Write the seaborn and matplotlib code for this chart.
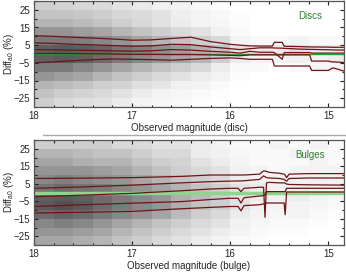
import numpy as np
import pandas as pd
import matplotlib
matplotlib.use("Agg")
import matplotlib.pyplot as plt
from matplotlib.lines import Line2D
from matplotlib.ticker import MultipleLocator
import seaborn as sns

# ---------------- data ----------------
# density grid (grey background): columns = magnitude bins 18.0 -> 14.8 (step 0.2),
# rows = Diff bins from +30 (top) to -30 (bottom), step 5
mag_edges = [18.0, 17.8, 17.6, 17.4, 17.2, 17.0, 16.8, 16.6, 16.4, 16.2, 16.0,
             15.8, 15.6, 15.4, 15.2, 15.0, 14.8]
diff_edges = [30, 25, 20, 15, 10, 5, 0, -5, -10, -15, -20, -25, -30]

disc_density = [
    [0.30, 0.28, 0.26, 0.24, 0.20, 0.16, 0.12, 0.10, 0.06, 0.03, 0.00, 0.00, 0.00, 0.00, 0.00, 0.00],
    [0.35, 0.35, 0.33, 0.30, 0.26, 0.24, 0.20, 0.14, 0.10, 0.06, 0.02, 0.00, 0.00, 0.00, 0.00, 0.00],
    [0.40, 0.40, 0.38, 0.35, 0.30, 0.25, 0.20, 0.15, 0.10, 0.08, 0.03, 0.00, 0.00, 0.00, 0.00, 0.00],
    [0.50, 0.50, 0.48, 0.45, 0.40, 0.35, 0.30, 0.25, 0.20, 0.12, 0.05, 0.00, 0.00, 0.00, 0.00, 0.00],
    [0.60, 0.60, 0.58, 0.55, 0.50, 0.45, 0.40, 0.35, 0.30, 0.25, 0.10, 0.05, 0.05, 0.10, 0.05, 0.05],
    [0.70, 0.72, 0.70, 0.68, 0.62, 0.58, 0.52, 0.48, 0.42, 0.35, 0.20, 0.15, 0.15, 0.20, 0.15, 0.15],
    [0.70, 0.72, 0.70, 0.65, 0.60, 0.55, 0.50, 0.45, 0.40, 0.30, 0.15, 0.10, 0.10, 0.12, 0.10, 0.15],
    [0.60, 0.60, 0.55, 0.50, 0.45, 0.40, 0.35, 0.30, 0.25, 0.15, 0.05, 0.05, 0.00, 0.05, 0.08, 0.10],
    [0.50, 0.48, 0.45, 0.40, 0.35, 0.30, 0.25, 0.20, 0.15, 0.10, 0.03, 0.00, 0.00, 0.00, 0.00, 0.00],
    [0.40, 0.38, 0.35, 0.30, 0.28, 0.22, 0.18, 0.12, 0.10, 0.05, 0.00, 0.00, 0.00, 0.00, 0.00, 0.00],
    [0.35, 0.30, 0.28, 0.25, 0.20, 0.15, 0.10, 0.08, 0.05, 0.02, 0.00, 0.00, 0.00, 0.00, 0.00, 0.00],
    [0.30, 0.25, 0.22, 0.20, 0.15, 0.10, 0.08, 0.05, 0.03, 0.00, 0.00, 0.00, 0.00, 0.00, 0.00, 0.00],
]

bulge_density = [
    [0.30, 0.30, 0.30, 0.30, 0.25, 0.25, 0.20, 0.20, 0.15, 0.10, 0.05, 0.05, 0.10, 0.05, 0.10, 0.05],
    [0.40, 0.40, 0.38, 0.35, 0.35, 0.30, 0.25, 0.25, 0.15, 0.12, 0.08, 0.05, 0.05, 0.10, 0.05, 0.05],
    [0.45, 0.45, 0.42, 0.40, 0.40, 0.35, 0.30, 0.28, 0.20, 0.15, 0.10, 0.05, 0.05, 0.05, 0.10, 0.05],
    [0.50, 0.50, 0.50, 0.48, 0.45, 0.40, 0.35, 0.30, 0.25, 0.20, 0.12, 0.10, 0.05, 0.10, 0.10, 0.10],
    [0.55, 0.58, 0.55, 0.52, 0.50, 0.45, 0.40, 0.35, 0.30, 0.25, 0.15, 0.12, 0.10, 0.12, 0.12, 0.10],
    [0.62, 0.65, 0.62, 0.60, 0.55, 0.50, 0.45, 0.40, 0.35, 0.30, 0.20, 0.15, 0.12, 0.15, 0.12, 0.10],
    [0.70, 0.72, 0.70, 0.65, 0.60, 0.55, 0.50, 0.42, 0.38, 0.30, 0.20, 0.15, 0.12, 0.15, 0.10, 0.08],
    [0.72, 0.75, 0.72, 0.65, 0.60, 0.55, 0.50, 0.42, 0.35, 0.30, 0.20, 0.12, 0.10, 0.10, 0.08, 0.05],
    [0.65, 0.68, 0.65, 0.60, 0.55, 0.50, 0.45, 0.38, 0.30, 0.25, 0.15, 0.10, 0.08, 0.10, 0.05, 0.03],
    [0.55, 0.58, 0.55, 0.50, 0.45, 0.40, 0.35, 0.30, 0.25, 0.20, 0.12, 0.08, 0.05, 0.05, 0.03, 0.00],
    [0.50, 0.50, 0.48, 0.45, 0.40, 0.35, 0.30, 0.25, 0.20, 0.15, 0.10, 0.05, 0.03, 0.03, 0.00, 0.00],
    [0.45, 0.45, 0.42, 0.40, 0.35, 0.30, 0.25, 0.20, 0.15, 0.10, 0.05, 0.03, 0.00, 0.00, 0.00, 0.00],
]

# percentile curves, discs
disc_mag = [18.0, 17.8, 17.6, 17.4, 17.2, 17.0, 16.8, 16.6, 16.4, 16.2, 16.0, 15.9, 15.8,
            15.7, 15.57, 15.55, 15.47, 15.45, 15.3, 15.19, 15.17, 15.0, 14.96, 14.94, 14.84]
disc_p1 = [10.4, 10.0, 9.5, 9.0, 8.5, 7.8, 8.0, 8.8, 9.5, 7.0, 5.5, 5.0, 4.6,
           4.5, 4.5, 6.6, 6.6, 4.4, 4.2, 4.0, 4.0, 3.9, 3.8, 3.8, 3.8]
disc_p2 = [6.3, 6.0, 5.5, 5.2, 4.8, 4.4, 4.6, 5.5, 5.3, 4.0, 3.0, 2.5, 3.0,
           3.5, 3.5, 3.4, 3.3, 3.2, 2.8, 2.6, 2.6, 2.4, 2.3, 2.3, 2.2]
disc_p3 = [2.5, 2.4, 2.2, 2.0, 1.8, 1.6, 1.8, 2.5, 2.2, 1.5, 1.0, 0.5, 1.5,
           1.0, 1.0, 0.8, -3.0, 0.8, 0.8, 0.8, 0.5, 0.5, 0.5, 0.5, 0.5]
disc_p4 = [0.3, 0.3, 0.2, 0.1, 0.0, -0.2, -0.2, -0.3, -0.3, -0.5, -0.8, -1.0, -0.5,
           -0.5, -0.5, -0.5, -0.5, -0.5, -0.5, -0.5, -4.0, -4.0, -4.5, -4.5, -4.8]
disc_p5 = [-5.0, -4.5, -3.8, -3.2, -2.8, -3.0, -3.2, -3.5, -3.0, -2.5, -2.2, -2.5, -3.0,
           -3.0, -3.0, -6.8, -6.8, -6.8, -6.8, -6.8, -9.3, -9.3, -8.0, -8.0, -9.7]

# percentile curves, bulges
bulge_mag = [18.0, 17.5, 17.0, 16.5, 16.2, 16.0, 15.92, 15.89, 15.86, 15.7, 15.66,
             15.645, 15.63, 15.6, 15.5, 15.45, 15.44, 15.425, 15.4, 15.2, 14.84]
bulge_p1 = [8.0, 8.2, 8.5, 9.2, 10.0, 10.0, 10.0, 10.0, 10.0, 10.5, 12.3,
            12.3, 12.0, 11.5, 11.0, 10.5, 10.0, 8.5, 10.5, 10.8, 10.8]
bulge_p2 = [2.4, 3.2, 4.2, 5.5, 6.2, 6.5, 6.6, 6.6, 6.7, 7.5, 9.5,
            9.0, 8.5, 8.3, 8.0, 7.5, 7.0, 6.5, 8.0, 8.3, 8.3]
bulge_p3 = [-2.4, -1.5, -0.5, 1.0, 2.0, 2.4, 2.4, 0.5, 2.4, 3.0, 3.0,
            -14.2, 5.5, 5.8, 5.5, 5.5, 5.3, 4.8, 4.6, 4.4, 4.2]
bulge_p4 = [-8.0, -7.0, -6.1, -5.2, -4.0, -3.3, -3.3, -6.0, -3.0, -2.0, -1.8,
            -1.5, 0.5, 0.5, 0.5, 0.5, 0.5, 2.4, 2.4, 2.4, 2.4]
bulge_p5 = [-11.7, -11.3, -10.8, -9.3, -8.5, -8.0, -8.0, -10.5, -7.5, -7.0, -6.5,
            -6.3, -6.0, -6.0, -6.0, -6.0, -12.7, 0.3, 0.3, 0.3, 0.3]

y_ticks = [25, 15, 5, -5, -15, -25]
x_ticks = [18, 17, 16, 15]
panel_labels = ["Discs", "Bulges"]
x_labels = ["Observed magnitude (disc)", "Observed magnitude (bulge)"]

# ---------------- style ----------------
sns.set_style("white")
plt.rcParams["font.family"] = ["Liberation Sans", "DejaVu Sans"]
plt.rcParams["font.size"] = 7

fig = plt.figure(figsize=(3.46, 2.75), dpi=100)
ax_top = fig.add_axes([34 / 346, 1 - 107 / 275, 310 / 346, 106 / 275])
ax_bot = fig.add_axes([34 / 346, 1 - 245 / 275, 310 / 346, 105 / 275])

brown = "#6e1414"

def draw_panel(ax, density, mag, curves, label, xlabel, green_kw):
    ax.pcolormesh(mag_edges, diff_edges, np.array(density), cmap="Greys",
                  vmin=0, vmax=1, shading="flat", zorder=0)
    ax.axhline(0, zorder=1, **green_kw)
    for c in curves:
        df = pd.DataFrame({"mag": mag, "diff": c})
        sns.lineplot(data=df, x="mag", y="diff", ax=ax, color=brown, lw=0.9,
                     estimator=None, sort=False, zorder=2)
    ax.set_xlim(18.0, 14.84)
    ax.set_ylim(-30, 30)
    ax.set_xticks(x_ticks)
    ax.set_yticks(y_ticks)
    ax.xaxis.set_minor_locator(MultipleLocator(0.2))
    ax.yaxis.set_minor_locator(MultipleLocator(5))
    ax.tick_params(which="both", direction="in", top=True, right=True,
                   bottom=True, left=True, color="#222222", labelsize=7, width=0.8)
    ax.tick_params(which="major", length=3, pad=3)
    ax.tick_params(which="minor", length=1.8)
    for s in ax.spines.values():
        s.set_color("#555555")
        s.set_linewidth(0.9)
    ax.set_xlabel(xlabel, fontsize=7, labelpad=1.5)
    ax.set_ylabel("Diff$_{\\mathregular{a0}}$ (%)", fontsize=7)
    ax.yaxis.set_label_coords(-0.058, 0.5)
    ax.text(0.89, 0.86, label, transform=ax.transAxes, color="#2e7d2e",
            fontsize=7, ha="center", va="center")

draw_panel(ax_top, disc_density, disc_mag,
           [disc_p1, disc_p2, disc_p3, disc_p4, disc_p5],
           panel_labels[0], x_labels[0],
           dict(color="#2ca02c", lw=1.0))
draw_panel(ax_bot, bulge_density, bulge_mag,
           [bulge_p1, bulge_p2, bulge_p3, bulge_p4, bulge_p5],
           panel_labels[1], x_labels[1],
           dict(color="#8fd48f", lw=2.5))

fig.add_artist(Line2D([43 / 346, 1.0], [1 - 135 / 275, 1 - 135 / 275],
                      transform=fig.transFigure, color="#aaaaaa", lw=1.0))

fig.savefig("out.png", dpi=100)
